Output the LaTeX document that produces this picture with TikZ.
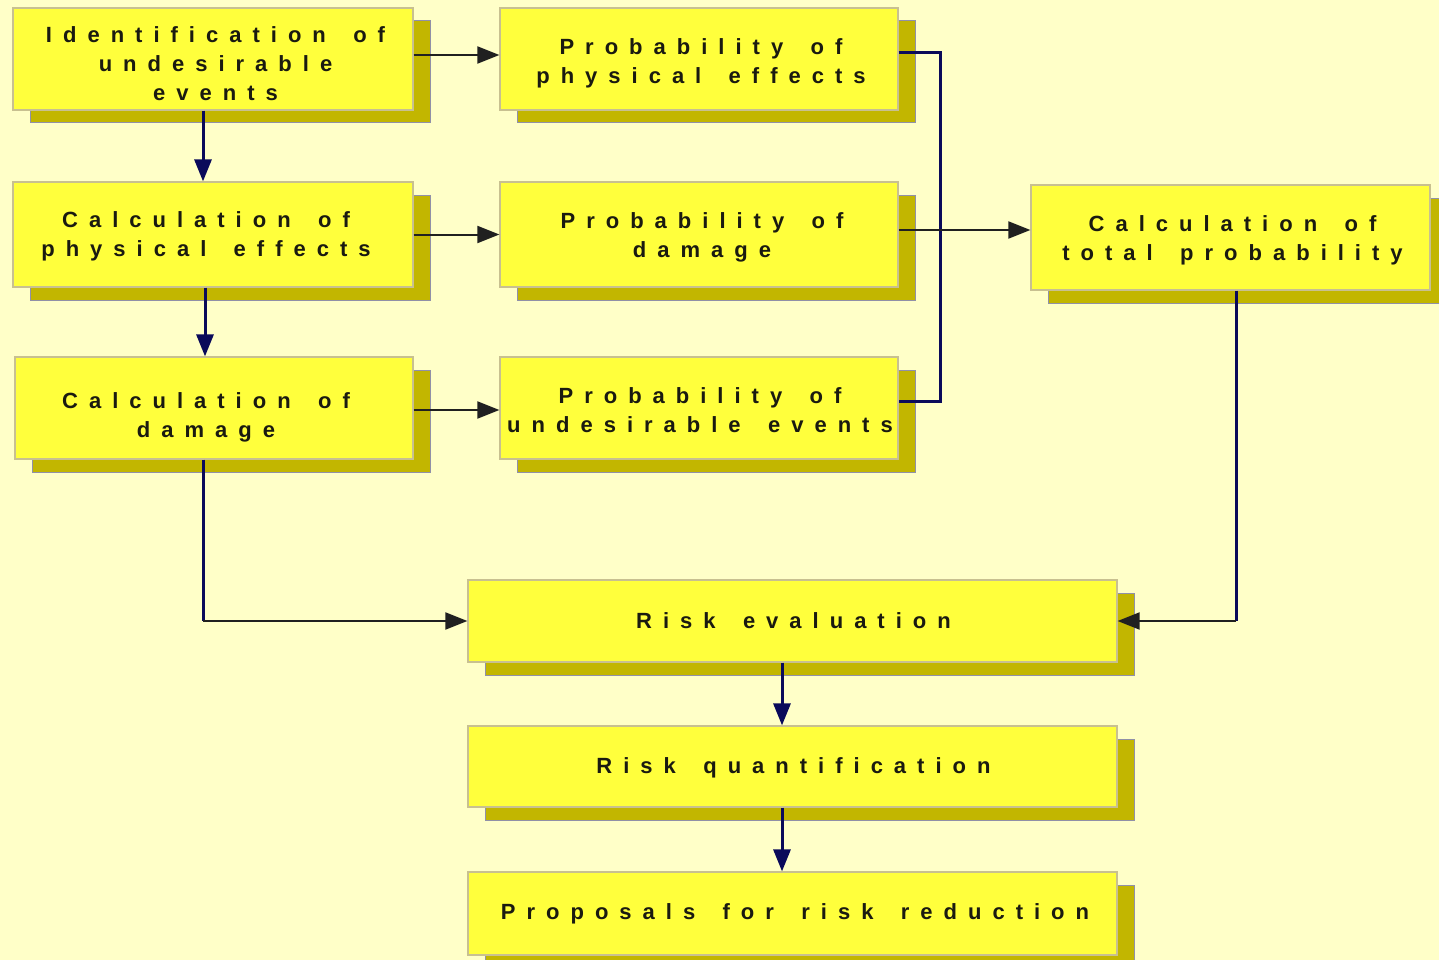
\documentclass[tikz,border=0pt]{standalone}
\usepackage{fontspec}
\setmainfont{Liberation Sans}
\newfontfamily\boxfont[LetterSpace=50,WordSpace=1.6]{Liberation Sans}
\usetikzlibrary{arrows.meta,calc,shadows}
\definecolor{bgc}{HTML}{FFFFC8}
\definecolor{boxc}{HTML}{FFFF3C}
\definecolor{boxedge}{HTML}{C8C090}
\definecolor{shadowc}{HTML}{C2B600}
\definecolor{shadowedge}{HTML}{9090A8}
\definecolor{navyc}{HTML}{0A0A5A}
\definecolor{hlinec}{HTML}{202020}
\definecolor{txtc}{HTML}{1A1A10}
\tikzset{
  box/.style={fill=boxc, draw=boxedge, line width=1.2pt, inner sep=0pt,
    drop shadow={shadow xshift=17pt, shadow yshift=-13pt, fill=shadowc, draw=shadowedge, line width=1pt, opacity=1}},
  lbl/.style={inner sep=0pt, align=center, text=txtc, font=\boxfont\bfseries\fontsize{22}{29}\selectfont},
  vconn/.style={draw=navyc, line width=3pt, -{Triangle[length=22pt,width=17pt]}},
  hconn/.style={draw=hlinec, line width=2pt, -{Triangle[length=22pt,width=17pt]}},
  vplain/.style={draw=navyc, line width=3pt},
}
\begin{document}
\begin{tikzpicture}[x=1pt,y=-1pt]
\fill[bgc] (0,0) rectangle (1439,960);
\useasboundingbox (0,0) rectangle (1439,960);
% boxes
\node[box, minimum width=400pt, minimum height=102pt] (n1) at (213,59) {};
\node[box, minimum width=400pt, minimum height=105pt] (n2) at (213,234.5) {};
\node[box, minimum width=398pt, minimum height=102pt] (n3) at (214,408) {};
\node[box, minimum width=398pt, minimum height=102pt] (n4) at (699,59) {};
\node[box, minimum width=398pt, minimum height=105pt] (n5) at (699,234.5) {};
\node[box, minimum width=398pt, minimum height=102pt] (n6) at (699,408) {};
\node[box, minimum width=399pt, minimum height=105pt] (n7) at (1230.5,237.5) {};
\node[box, minimum width=649pt, minimum height=82pt] (n8) at (792.5,621) {};
\node[box, minimum width=649pt, minimum height=81pt] (n9) at (792.5,766.5) {};
\node[box, minimum width=649pt, minimum height=83pt] (n10) at (792.5,913.5) {};
% texts
\node[lbl] (t1) at (215.5,64) {Identification of\\undesirable\\events};
\node[lbl] (t2) at (206,236) {Calculation of\\physical effects};
\node[lbl] (t3) at (206,417) {Calculation of\\damage};
\node[lbl] (t4) at (701,63) {Probability of\\physical effects};
\node[lbl] (t5) at (702,237.5) {Probability of\\damage};
\node[lbl] (t6) at (700,410) {Probability of\\undesirable events};
\node[lbl] (t7) at (1232.5,240) {Calculation of\\total probability};
\node[lbl] (t8) at (793.5,621) {Risk evaluation};
\node[lbl] (t9) at (793.5,768) {Risk quantification};
\node[lbl] (t10) at (795,913.5) {Proposals for risk reduction};
% connectors
\draw[hconn] ([yshift=4pt]n1.east) coordinate (a1) -- (a1 -| n4.west);
\draw[vconn] ([xshift=-10pt]n1.south) coordinate (a2) -- (a2 |- n2.north);
\draw[hconn] (n2.east) -- (n2.east -| n5.west);
\draw[vconn] ([xshift=-8pt]n2.south) coordinate (a3) -- (a3 |- n3.north);
\draw[hconn] ([yshift=-2pt]n3.east) coordinate (a4) -- (a4 -| n6.west);
\draw[vplain] ([xshift=-11pt]n3.south) coordinate (a5) -- (a5 |- n8.west);
\draw[hconn] (a5 |- n8.west) -- (n8.west);
\coordinate (bus) at (940,230);
\draw[vplain] ([yshift=6pt]n4.east) coordinate (b1) -| (bus) |- ([yshift=7pt]n6.east);
\draw[hconn] ([yshift=4.5pt]n5.east) coordinate (b2) -- (b2 -| n7.west);
\draw[vplain] ([xshift=5.5pt]n7.south) coordinate (c1) -- (c1 |- n8.east);
\draw[hconn] (c1 |- n8.east) -- (n8.east);
\draw[vconn] ([xshift=-10.5pt]n8.south) coordinate (d1) -- (d1 |- n9.north);
\draw[vconn] ([xshift=-10.5pt]n9.south) coordinate (d2) -- (d2 |- n10.north);
\end{tikzpicture}
\end{document}
